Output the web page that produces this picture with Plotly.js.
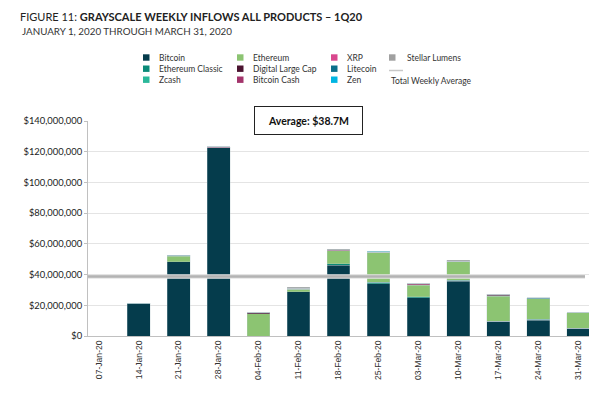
<!DOCTYPE html>
<html>
<head>
<meta charset="utf-8">
<script src="https://cdn.plot.ly/plotly-3.0.1.min.js"></script>
<style>
html,body{margin:0;padding:0;background:#fff;}
#chart{width:600px;height:397px;}
</style>
</head>
<body>
<div id="chart"></div>
<script>
// ---- DATA ----
const weeks = ["07-Jan-20","14-Jan-20","21-Jan-20","28-Jan-20","04-Feb-20","11-Feb-20","18-Feb-20","25-Feb-20","03-Mar-20","10-Mar-20","17-Mar-20","24-Mar-20","31-Mar-20"];
const bitcoin         = [0, 21000000, 48500000, 122600000, 0, 28700000, 46000000, 34100000, 24800000, 35600000, 9600000, 10200000, 5000000];
const ethereumClassic = [0, 0, 0, 0, 0, 0, 900000, 900000, 600000, 700000, 0, 600000, 0];
const zcash           = [0, 0, 0, 0, 0, 0, 0, 0, 0, 0, 0, 0, 0];
const ethereum        = [0, 0, 3300000, 0, 14600000, 1900000, 8500000, 19500000, 7600000, 11900000, 16300000, 13300000, 10200000];
const digitalLargeCap = [0, 0, 300000, 0, 400000, 0, 0, 0, 500000, 0, 600000, 0, 0];
const bitcoinCash     = [0, 0, 0, 200000, 400000, 600000, 500000, 0, 400000, 500000, 300000, 0, 0];
const xrp             = [0, 0, 0, 300000, 0, 0, 300000, 0, 0, 0, 300000, 0, 0];
const litecoin        = [0, 300000, 400000, 0, 0, 0, 0, 400000, 0, 0, 0, 500000, 0];
const zen             = [0, 0, 200000, 0, 0, 0, 0, 300000, 0, 0, 0, 300000, 0];
const stellarLumens   = [0, 0, 0, 0, 0, 500000, 300000, 0, 0, 600000, 0, 0, 0];
const weeklyAverage = 38700000;
const averageLabel = "Average: $38.7M";
const yTickVals = [0, 20000000, 40000000, 60000000, 80000000, 100000000, 120000000, 140000000];
const yTickText = ["$0","$20,000,000","$40,000,000","$60,000,000","$80,000,000","$100,000,000","$120,000,000","$140,000,000"];

const series = [
  {name:"Bitcoin", y:bitcoin, color:"#053c4c", col:0, row:0},
  {name:"Ethereum Classic", y:ethereumClassic, color:"#0b8a78", col:0, row:1},
  {name:"Zcash", y:zcash, color:"#2bb89a", col:0, row:2},
  {name:"Ethereum", y:ethereum, color:"#8cc472", col:1, row:0},
  {name:"Digital Large Cap", y:digitalLargeCap, color:"#4b1430", col:1, row:1},
  {name:"Bitcoin Cash", y:bitcoinCash, color:"#a3346b", col:1, row:2},
  {name:"XRP", y:xrp, color:"#d9488e", col:2, row:0},
  {name:"Litecoin", y:litecoin, color:"#0b6f8a", col:2, row:1},
  {name:"Zen", y:zen, color:"#00b5e2", col:2, row:2},
  {name:"Stellar Lumens", y:stellarLumens, color:"#a0a0a0", col:3, row:0}
];

// ---- LAYOUT HELPERS (pixel -> paper) ----
const W = 600, H = 397;
const M = {l:88, r:11, t:121, b:61};
const pw = W - M.l - M.r, ph = H - M.t - M.b;
const px = x => (x - M.l) / pw;
const py = y => (H - M.b - y) / ph;

const FONT = "Lato, 'Open Sans', sans-serif";

const traces = series.map(s => ({
  type: "bar",
  name: s.name,
  x: weeks,
  y: s.y,
  marker: {color: s.color, line: {color: "rgba(190,205,210,0.6)", width: 0.5}},
  width: 0.57,
  showlegend: false,
  hoverinfo: "x+y+name"
}));

const shapes = [];
const annotations = [];

// average line (drawn on top of bars)
shapes.push({type:"line", xref:"paper", yref:"y", x0:0, x1:px(585), y0:weeklyAverage, y1:weeklyAverage,
  line:{color:"rgba(228,228,228,1)", width:4.5}, layer:"above"});
shapes.push({type:"line", xref:"paper", yref:"y", x0:0, x1:px(585), y0:weeklyAverage, y1:weeklyAverage,
  line:{color:"#b3b3b3", width:2.5}, layer:"above"});

// manual legend
const colSq = [143, 237, 331, 389];
const colTx = [156.5, 250.5, 344.5, 405];
const rowY = [57.5, 68.7, 79.7];
series.forEach(s => {
  const cx = colSq[s.col], cy = rowY[s.row];
  shapes.push({type:"rect", xref:"paper", yref:"paper", x0:px(cx), x1:px(cx+6.5), y0:py(cy+3.2), y1:py(cy-3.2),
    fillcolor:s.color, line:{width:0}});
  annotations.push({xref:"paper", yref:"paper", x:px(colTx[s.col]), y:py(cy), xanchor:"left", yanchor:"middle",
    text:s.name, showarrow:false, font:{family:FONT, size:8.5, color:"#333"}});
});
shapes.push({type:"line", xref:"paper", yref:"paper", x0:px(389), x1:px(403), y0:py(70.5), y1:py(70.5),
  line:{color:"#c8c8c8", width:1.5}});
annotations.push({xref:"paper", yref:"paper", x:px(389), y:py(80.5), xanchor:"left", yanchor:"middle",
  text:"Total Weekly Average", showarrow:false, font:{family:FONT, size:8.5, color:"#333"}});

// average box
annotations.push({xref:"paper", yref:"paper", x:px(308.5), y:py(120.5), xanchor:"center", yanchor:"middle",
  text:"<b>" + averageLabel + "</b>", showarrow:false, bgcolor:"#fff", bordercolor:"#222", borderwidth:1,
  borderpad:1, width:105, height:25, font:{family:FONT, size:10.5, color:"#111"}});

// subtitle
annotations.push({xref:"paper", yref:"paper", x:px(20), y:py(30.5), xanchor:"left", yanchor:"middle",
  text:"JANUARY 1, 2020 THROUGH MARCH 31, 2020", showarrow:false, font:{family:FONT, size:9.8, color:"#333"}});

const layout = {
  width: W, height: H,
  margin: M,
  paper_bgcolor: "#fff", plot_bgcolor: "#fff",
  barmode: "stack",
  showlegend: false,
  title: {text:"FIGURE 11: <b>GRAYSCALE WEEKLY INFLOWS ALL PRODUCTS – 1Q20</b>", x:20/W, xanchor:"left",
    xref:"container", y:1-17/H, yanchor:"middle", yref:"container",
    font:{family:FONT, size:11, color:"#222"}},
  xaxis: {type:"category", range:[-0.27, 12.27], tickangle:-90, showgrid:false,
    showline:true, linecolor:"#c0c0c0", linewidth:1, ticks:"", 
    tickfont:{family:"'Liberation Sans', Arial, sans-serif", size:8.6, color:"#333"}, fixedrange:true},
  yaxis: {range:[0, 140000000], tickvals:yTickVals, ticktext:yTickText, showgrid:true, gridcolor:"#e4e4e4", gridwidth:1,
    showline:true, linecolor:"#c0c0c0", linewidth:1, ticks:"outside", ticklen:3, tickcolor:"#c0c0c0",
    zeroline:false, tickfont:{family:FONT, size:9.4, color:"#222"}, fixedrange:true},
  shapes: shapes,
  annotations: annotations
};

Plotly.newPlot("chart", traces, layout, {displayModeBar:false, staticPlot:true});
</script>
</body>
</html>
